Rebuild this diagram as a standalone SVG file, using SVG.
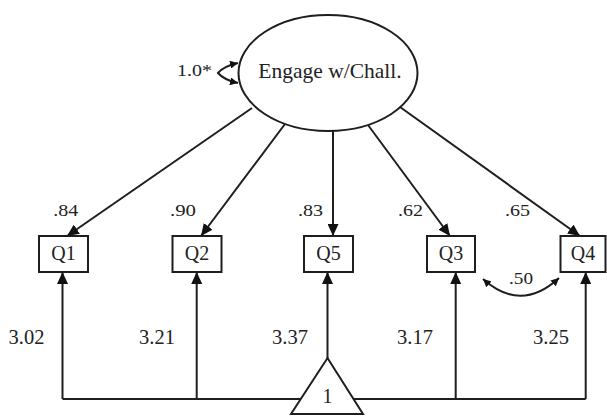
<svg xmlns="http://www.w3.org/2000/svg" width="607" height="417" viewBox="0 0 607 417">
<style>
  .ln { fill: none; stroke: #1e1e1e; stroke-width: 2; }
  .box { fill: #ffffff; stroke: #1e1e1e; stroke-width: 2; }
  text { font-family: 'Liberation Serif', 'Times New Roman', 'DejaVu Serif', serif; fill: #222; }
  .lab { font-size: 17px; }
  .num { font-size: 20.5px; }
  .q { font-size: 20px; text-anchor: middle; }
</style>
<defs>
  <marker id="arr" markerUnits="userSpaceOnUse" markerWidth="13" markerHeight="11" refX="12" refY="5.5" orient="auto">
    <path d="M0,0 L12,5.5 L0,11 z" fill="#111"/>
  </marker>
  <marker id="arrs" markerUnits="userSpaceOnUse" markerWidth="9" markerHeight="8" refX="8" refY="4" orient="auto-start-reverse">
    <path d="M0,0 L8,4 L0,8 z" fill="#111"/>
  </marker>
</defs>
<rect width="607" height="417" fill="#ffffff"/>

<g id="connectors">
  <path class="ln" d="M252,108 L67,236" marker-end="url(#arr)"/>
  <path class="ln" d="M285,124 L201,236" marker-end="url(#arr)"/>
  <path class="ln" d="M333,131 L333,236" marker-end="url(#arr)"/>
  <path class="ln" d="M368,125 L450,236" marker-end="url(#arr)"/>
  <path class="ln" d="M400,107 L580,236" marker-end="url(#arr)"/>
  <path class="ln" d="M238,63 Q224,66 218,73 Q224,80 238,83" marker-start="url(#arrs)" marker-end="url(#arrs)"/>
  <path class="ln" d="M483,279 Q521,313 559,278" marker-start="url(#arrs)" marker-end="url(#arrs)"/>
  <path class="ln" d="M62.5,399 L62.5,272" marker-end="url(#arr)"/>
  <path class="ln" d="M196.7,399 L196.7,272" marker-end="url(#arr)"/>
  <path class="ln" d="M327.5,358 L327.5,272" marker-end="url(#arr)"/>
  <path class="ln" d="M455.7,399 L455.7,272" marker-end="url(#arr)"/>
  <path class="ln" d="M585.7,399 L585.7,272" marker-end="url(#arr)"/>
  <path class="ln" d="M62.5,399 L303,399"/>
  <path class="ln" d="M353,399 L585.7,399"/>
  <text class="lab" x="53.3" y="216.3" font-family="Liberation Serif, serif" textLength="25" lengthAdjust="spacingAndGlyphs">.84</text>
  <text class="lab" x="170" y="216.3" font-family="Liberation Serif, serif" textLength="26" lengthAdjust="spacingAndGlyphs">.90</text>
  <text class="lab" x="298" y="216.3" font-family="Liberation Serif, serif" textLength="25" lengthAdjust="spacingAndGlyphs">.83</text>
  <text class="lab" x="398" y="216.3" font-family="Liberation Serif, serif" textLength="25" lengthAdjust="spacingAndGlyphs">.62</text>
  <text class="lab" x="505" y="216.3" font-family="Liberation Serif, serif" textLength="25" lengthAdjust="spacingAndGlyphs">.65</text>
  <text class="lab" x="509" y="284" font-family="Liberation Serif, serif" textLength="24" lengthAdjust="spacingAndGlyphs">.50</text>
  <text class="lab" x="177" y="76" font-family="Liberation Serif, serif" textLength="35" lengthAdjust="spacingAndGlyphs">1.0*</text>
  <text class="num" x="8.5" y="344" font-family="Liberation Serif, serif">3.02</text>
  <text class="num" x="139" y="344" font-family="Liberation Serif, serif">3.21</text>
  <text class="num" x="272" y="344" font-family="Liberation Serif, serif">3.37</text>
  <text class="num" x="397" y="344" font-family="Liberation Serif, serif">3.17</text>
  <text class="num" x="533" y="344" font-family="Liberation Serif, serif">3.25</text>
</g>

<g id="engage">
  <ellipse cx="328" cy="73" rx="89.5" ry="58" class="box"/>
  <text x="330" y="78" font-size="21.5" font-family="Liberation Serif, serif" text-anchor="middle">Engage w/Chall.</text>
</g>
<g id="Q1">
  <rect x="39" y="236" width="49" height="36" class="box"/>
  <text class="q" x="63.5" y="260" font-family="Liberation Serif, serif">Q1</text>
</g>
<g id="Q2">
  <rect x="172.5" y="236" width="49" height="36" class="box"/>
  <text class="q" x="197" y="260" font-family="Liberation Serif, serif">Q2</text>
</g>
<g id="Q5">
  <rect x="304" y="236" width="49" height="36" class="box"/>
  <text class="q" x="328.5" y="260" font-family="Liberation Serif, serif">Q5</text>
</g>
<g id="Q3">
  <rect x="427" y="236" width="48" height="36" class="box"/>
  <text class="q" x="451" y="260" font-family="Liberation Serif, serif">Q3</text>
</g>
<g id="Q4">
  <rect x="560.5" y="236" width="45" height="36" class="box"/>
  <text class="q" x="583" y="260" font-family="Liberation Serif, serif">Q4</text>
</g>
<g id="one">
  <path d="M327.5,358 L363,414 L291,414 z" class="box"/>
  <text x="327.5" y="403" font-size="20" font-family="Liberation Serif, serif" text-anchor="middle">1</text>
</g>
</svg>
